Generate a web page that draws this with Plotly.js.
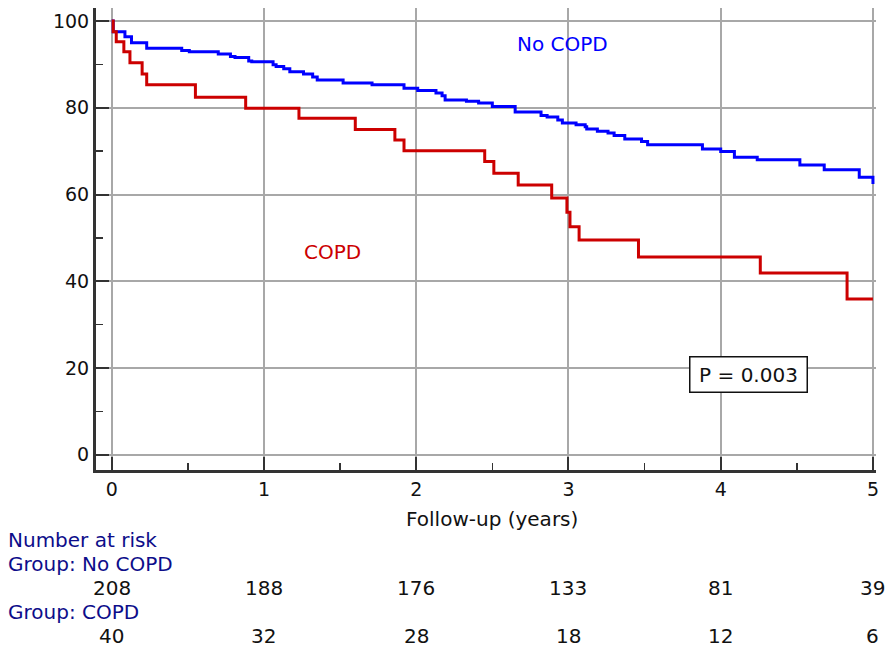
<!DOCTYPE html>
<html>
<head>
<meta charset="utf-8">
<script src="https://cdn.plot.ly/plotly-3.0.1.min.js"></script>
<style>html,body{margin:0;padding:0;background:#fff;}#chart{width:886px;height:651px;}</style>
</head>
<body>
<div id="chart"></div>
<script>
// Kaplan-Meier survival estimates (time in years, survival in %)
const noCopdTime = [0, 0.01, 0.087, 0.13, 0.23, 0.46, 0.51, 0.70, 0.78, 0.81, 0.90, 0.92, 1.06, 1.08, 1.13, 1.17, 1.26, 1.32, 1.35, 1.52, 1.71, 1.92, 2.01, 2.13, 2.17, 2.19, 2.33, 2.41, 2.50, 2.65, 2.82, 2.86, 2.93, 2.96, 3.05, 3.11, 3.12, 3.19, 3.26, 3.30, 3.37, 3.48, 3.52, 3.88, 4.00, 4.09, 4.24, 4.52, 4.68, 4.91, 5.0];
const noCopdSurv = [100, 97.5, 96.4, 95.0, 93.7, 93.2, 92.9, 92.4, 91.8, 91.6, 90.8, 90.6, 89.9, 89.5, 89.0, 88.3, 87.8, 87.1, 86.4, 85.7, 85.3, 84.5, 84.0, 83.4, 82.8, 81.8, 81.5, 81.1, 80.3, 79.0, 78.2, 77.9, 77.2, 76.5, 76.1, 75.6, 75.1, 74.6, 74.2, 73.6, 72.8, 72.2, 71.5, 70.5, 69.9, 68.6, 68.0, 66.8, 65.7, 64.0, 62.4];
const copdTime = [0, 0.01, 0.03, 0.08, 0.12, 0.20, 0.23, 0.55, 0.88, 1.23, 1.60, 1.86, 1.92, 2.45, 2.51, 2.67, 2.89, 2.99, 3.01, 3.07, 3.46, 4.26, 4.83, 5.0];
const copdSurv = [100, 97.5, 95.2, 92.9, 90.4, 87.8, 85.3, 82.4, 79.9, 77.6, 75.0, 72.6, 70.1, 67.6, 64.9, 62.2, 59.2, 55.9, 52.6, 49.5, 45.6, 41.9, 35.9, 35.9];

// Number at risk table
const riskTimes = [0, 1, 2, 3, 4, 5];
const riskNoCopd = [208, 188, 176, 133, 81, 39];
const riskCopd = [40, 32, 28, 18, 12, 6];

// Labels
const xTitle = "Follow-up (years)";
const labelNoCopd = "No COPD";
const labelCopd = "COPD";
const pText = "P = 0.003";
const riskHeader = "Number at risk";
const riskGroupNoCopd = "Group: No COPD";
const riskGroupCopd = "Group: COPD";

const FONT = "DejaVu Sans, Verdana, sans-serif";
const BLUE = "#0000FF";
const RED = "#CC0000";
const NAVY = "#0D0D8A";
const TS = 20;

const traces = [
  {x: noCopdTime, y: noCopdSurv, type: "scatter", mode: "lines", line: {shape: "hv", color: BLUE, width: 3}, name: labelNoCopd, hoverinfo: "x+y"},
  {x: copdTime, y: copdSurv, type: "scatter", mode: "lines", line: {shape: "hv", color: RED, width: 3}, name: labelCopd, hoverinfo: "x+y"}
];

function paperY(py) { return (470 - py) / 462; }
const leftX = (6 - 96) / 780;

const annotations = [
  {x: 2.96, y: 94.7, xref: "x", yref: "y", text: labelNoCopd, showarrow: false, font: {family: FONT, size: TS, color: BLUE}},
  {x: 1.45, y: 46.8, xref: "x", yref: "y", text: labelCopd, showarrow: false, font: {family: FONT, size: TS, color: RED}},
  {x: 4.18, y: 18.55, xref: "x", yref: "y", text: pText, showarrow: false, font: {family: FONT, size: TS, color: "#111"},
   bgcolor: "#fff", bordercolor: "#111", borderwidth: 1.5, borderpad: 2, width: 112, height: 30},
  {x: 2.5, y: paperY(519), xref: "x", yref: "paper", text: xTitle, showarrow: false, yanchor: "middle", font: {family: FONT, size: TS, color: "#111"}},
  {x: leftX, y: paperY(540), xref: "paper", yref: "paper", xanchor: "left", yanchor: "middle", text: riskHeader, showarrow: false, font: {family: FONT, size: TS, color: NAVY}},
  {x: leftX, y: paperY(564), xref: "paper", yref: "paper", xanchor: "left", yanchor: "middle", text: riskGroupNoCopd, showarrow: false, font: {family: FONT, size: TS, color: NAVY}},
  {x: leftX, y: paperY(612), xref: "paper", yref: "paper", xanchor: "left", yanchor: "middle", text: riskGroupCopd, showarrow: false, font: {family: FONT, size: TS, color: NAVY}}
];
riskTimes.forEach((t, i) => {
  annotations.push({x: t, y: paperY(588), xref: "x", yref: "paper", yanchor: "middle", text: String(riskNoCopd[i]), showarrow: false, font: {family: FONT, size: TS, color: "#111"}});
  annotations.push({x: t, y: paperY(636), xref: "x", yref: "paper", yanchor: "middle", text: String(riskCopd[i]), showarrow: false, font: {family: FONT, size: TS, color: "#111"}});
});

const layout = {
  width: 886, height: 651,
  margin: {l: 96, r: 10, t: 8, b: 181, pad: 0},
  paper_bgcolor: "#fff", plot_bgcolor: "#fff",
  showlegend: false,
  font: {family: FONT, size: 19, color: "#111"},
  xaxis: {
    range: [-0.103, 5.02], tickvals: riskTimes, ticktext: riskTimes.map(String),
    showgrid: true, gridcolor: "#A8A8A8", gridwidth: 2, zeroline: false,
    showline: true, linecolor: "#333", linewidth: 3,
    ticks: "inside", ticklen: 13, tickwidth: 2, tickcolor: "#333",
    minor: {dtick: 0.5, tick0: 0, ticks: "inside", ticklen: 7, tickwidth: 1.5, tickcolor: "#333", showgrid: false},
    tickfont: {family: FONT, size: 19, color: "#111"}
  },
  yaxis: {
    range: [-3.5, 103], tickvals: [0, 20, 40, 60, 80, 100],
    showgrid: true, gridcolor: "#A8A8A8", gridwidth: 2, zeroline: false,
    showline: true, linecolor: "#333", linewidth: 3,
    ticks: "inside", ticklen: 13, tickwidth: 2, tickcolor: "#333",
    minor: {dtick: 10, tick0: 0, ticks: "inside", ticklen: 7, tickwidth: 1.5, tickcolor: "#333", showgrid: false},
    tickfont: {family: FONT, size: 19, color: "#111"}
  },
  annotations: annotations
};

Plotly.newPlot("chart", traces, layout, {staticPlot: true, displayModeBar: false});
</script>
</body>
</html>
